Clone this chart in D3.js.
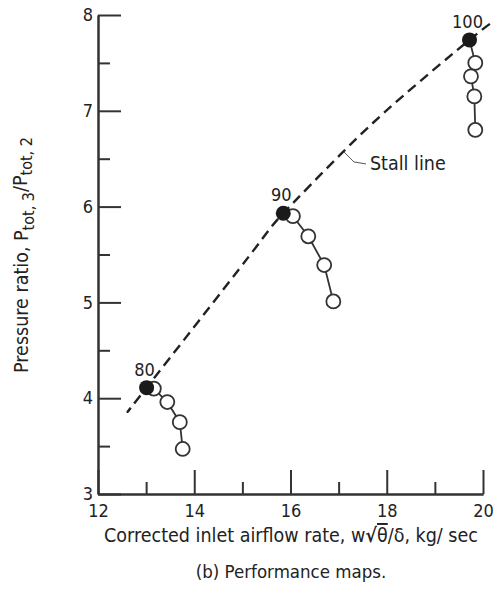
<!DOCTYPE html>
<html>
<head>
<meta charset="utf-8">
<script src="https://cdn.jsdelivr.net/npm/d3@7"></script>
<style>
  body { margin: 0; background: #fff; }
  svg { font-family: "DejaVu Sans Condensed", "Liberation Sans Narrow", sans-serif; fill: #222; }
  .axis path, .axis line { stroke: #333; stroke-width: 2; }
  .axis text { font-size: 18px; fill: #222; font-family: "DejaVu Sans Condensed", sans-serif; }
</style>
</head>
<body>
<svg class="plot" width="494" height="590"></svg>
<script>
// corrected speed, percent of design
var speedLabels = ["80", "90", "100"];

// filled points (stall / surge)
var surgeFlow = [13.01, 15.85, 19.72];
var surgePR = [4.11, 5.93, 7.74];

// open points along each speed line
var openFlow = [[13.16, 13.44, 13.70, 13.76],
                [16.05, 16.37, 16.70, 16.89],
                [19.84, 19.75, 19.82, 19.84]];
var openPR = [[4.10, 3.96, 3.75, 3.47],
              [5.90, 5.69, 5.39, 5.01],
              [7.50, 7.36, 7.15, 6.80]];

// stall line
var stallFlow = [12.68, 13.01, 15.12, 15.85, 17.07, 18.28, 19.72, 20.21];
var stallPR = [3.90, 4.11, 5.47, 5.93, 6.56, 7.13, 7.74, 7.93];

var xMajor = [12, 14, 16, 18, 20],
    xMinor = [13, 15, 17, 19],
    yMajor = [3, 4, 5, 6, 7, 8],
    yMinor = [3.5, 4.5, 5.5, 6.5, 7.5];

var svg = d3.select(".plot");

//set up scales
var x = d3.scaleLinear().domain([12, 20]).range([98, 483]),
    y = d3.scaleLinear().domain([3, 8]).range([494, 15]);

//axes, ticks point inward
svg.append("g")
    .attr("class", "axis")
    .attr("transform", "translate(0,494)")
    .call(d3.axisBottom(x).tickValues(xMinor).tickSizeInner(-12).tickSizeOuter(0).tickFormat(""));

svg.append("g")
    .attr("class", "axis")
    .attr("transform", "translate(0,494)")
    .call(d3.axisBottom(x).tickValues(xMajor).tickSizeInner(-24).tickSizeOuter(0).tickPadding(10).tickFormat(d3.format("d")));

svg.append("g")
    .attr("class", "axis")
    .attr("transform", "translate(98,0)")
    .call(d3.axisLeft(y).tickValues(yMinor).tickSizeInner(-12).tickSizeOuter(0).tickFormat(""));

svg.append("g")
    .attr("class", "axis")
    .attr("transform", "translate(98,0)")
    .call(d3.axisLeft(y).tickValues(yMajor).tickSizeInner(-23).tickSizeOuter(0).tickPadding(5).tickFormat(d3.format("d")));

//axis titles
var xt = svg.append("text")
    .attr("x", 291)
    .attr("y", 542)
    .style("font-size", "19.5px")
    .style("text-anchor", "middle");
xt.append("tspan").text("Corrected inlet airflow rate, w");
xt.append("tspan").style("font-weight", "bold").text("\u221A");
xt.append("tspan").style("text-decoration", "overline").text("\u03B8");
xt.append("tspan").text("/\u03B4, kg/ sec");

var yt = svg.append("text")
    .attr("transform", "translate(28,255)rotate(-90)")
    .style("font-size", "19.5px")
    .style("text-anchor", "middle");
yt.append("tspan").text("Pressure ratio,  P");
yt.append("tspan").attr("dy", "0.35em").style("font-size", "16px").text("tot, 3");
yt.append("tspan").attr("dy", "-0.35em").text("/P");
yt.append("tspan").attr("dy", "0.35em").style("font-size", "16px").text("tot, 2");

svg.append("text")
    .attr("x", 291)
    .attr("y", 578)
    .style("font-size", "18.5px")
    .style("text-anchor", "middle")
    .text("(b) Performance maps.");

//stall line
var stall = d3.zip(stallFlow, stallPR);
var line = d3.line()
    .x(function(d) { return x(d[0]); })
    .y(function(d) { return y(d[1]); })
    .curve(d3.curveNatural);

svg.append("path")
    .datum(stall)
    .attr("d", line)
    .attr("fill", "none")
    .attr("stroke", "#222")
    .attr("stroke-width", 2.4)
    .style("stroke-dasharray", "10,6");

//leader and label for stall line
var lx = x(stallFlow[4]) + 2, ly = y(stallPR[4]) - 1;
svg.append("path")
    .attr("d", "M" + lx + "," + ly + "l10,10l12,2")
    .attr("fill", "none")
    .attr("stroke", "#555")
    .attr("stroke-width", 1);
svg.append("text")
    .attr("x", lx + 26)
    .attr("y", ly + 18)
    .style("font-size", "19.5px")
    .text("Stall line");

//speed lines
speedLabels.forEach(function(s, i) {
  var pts = [[surgeFlow[i], surgePR[i]]].concat(d3.zip(openFlow[i], openPR[i]));

  svg.append("path")
      .datum(pts)
      .attr("d", d3.line().x(function(d) { return x(d[0]); }).y(function(d) { return y(d[1]); }))
      .attr("fill", "none")
      .attr("stroke", "#333")
      .attr("stroke-width", 1.8);

  svg.selectAll(".open" + i)
      .data(pts.slice(1))
      .enter()
      .append("circle")
      .attr("class", "open" + i)
      .attr("cx", function(d) { return x(d[0]); })
      .attr("cy", function(d) { return y(d[1]); })
      .attr("r", 7)
      .attr("fill", "#fff")
      .attr("stroke", "#333")
      .attr("stroke-width", 1.8);

  svg.append("circle")
      .attr("cx", x(surgeFlow[i]))
      .attr("cy", y(surgePR[i]))
      .attr("r", 7.5)
      .attr("fill", "#1a1a1a");

  svg.append("text")
      .attr("x", x(surgeFlow[i]) - 2)
      .attr("y", y(surgePR[i]) - 12)
      .style("font-size", "18px")
      .style("text-anchor", "middle")
      .text(s);
});
</script>
</body>
</html>
